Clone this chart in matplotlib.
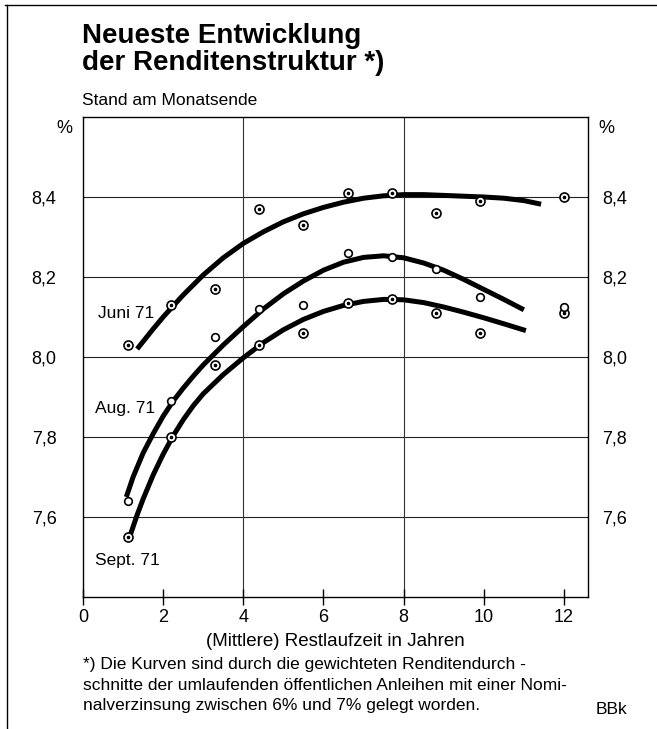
# plot.py
# Neueste Entwicklung der Renditenstruktur (BBk, 1971)

import matplotlib
matplotlib.use("Agg")
import matplotlib.pyplot as plt
import matplotlib.transforms as mtransforms

plt.rcParams["font.family"] = ["Liberation Sans", "DejaVu Sans"]

# observed yields (points), residual maturity in years
point_years = [1.12, 2.2, 3.3, 4.4, 5.5, 6.6, 7.7, 8.8, 9.9, 12.0]
juni_points = [8.03, 8.13, 8.17, 8.37, 8.33, 8.41, 8.41, 8.36, 8.39, 8.40]
aug_points = [7.64, 7.89, 8.05, 8.12, 8.13, 8.26, 8.25, 8.22, 8.15, 8.125]
sept_points = [7.55, 7.80, 7.98, 8.03, 8.06, 8.135, 8.145, 8.11, 8.06, 8.11]

# fitted curves
juni_curve_x = [1.35, 1.75, 2.0, 2.5, 3.0, 3.5, 4.0, 4.5, 5.0, 5.5, 6.0,
                6.5, 7.0, 7.5, 8.0, 8.5, 9.0, 9.5, 10.0, 10.5, 11.0, 11.43]
juni_curve_y = [8.02, 8.07, 8.10, 8.155, 8.205, 8.248, 8.284, 8.313, 8.338,
                8.358, 8.374, 8.387, 8.397, 8.403, 8.406, 8.406, 8.404,
                8.402, 8.40, 8.397, 8.391, 8.382]

aug_curve_x = [1.08, 1.25, 1.5, 1.75, 2.0, 2.25, 2.5, 2.75, 3.0, 3.5, 4.0,
               4.5, 5.0, 5.5, 6.0, 6.5, 7.0, 7.5, 8.0, 8.5, 9.0, 9.5, 10.0,
               10.5, 11.0]
aug_curve_y = [7.65, 7.70, 7.76, 7.808, 7.852, 7.89, 7.922, 7.952, 7.98,
               8.03, 8.076, 8.12, 8.158, 8.19, 8.217, 8.237, 8.249, 8.253,
               8.248, 8.235, 8.217, 8.194, 8.169, 8.144, 8.118]

sept_curve_x = [1.18, 1.35, 1.5, 1.75, 2.0, 2.25, 2.5, 2.75, 3.0, 3.5, 4.0,
                4.5, 5.0, 5.5, 6.0, 6.5, 7.0, 7.5, 8.0, 8.5, 9.0, 9.5, 10.0,
                10.5, 11.05]
sept_curve_y = [7.555, 7.605, 7.645, 7.705, 7.757, 7.803, 7.843, 7.878,
                7.908, 7.956, 7.998, 8.036, 8.068, 8.094, 8.114, 8.129,
                8.139, 8.144, 8.143, 8.136, 8.125, 8.112, 8.098, 8.083,
                8.066]

y_ticks = [7.6, 7.8, 8.0, 8.2, 8.4]
y_tick_labels = ["7,6", "7,8", "8,0", "8,2", "8,4"]
x_ticks = [0, 2, 4, 6, 8, 10, 12]

# figure, axes placed by pixel
W, H = 657, 729
fig = plt.figure(figsize=(W / 100, H / 100), dpi=100)
ax = fig.add_axes([83 / W, 1 - 597 / H, (588 - 83) / W, (597 - 117) / H])

ax.set_xlim(0, 12.6)
ax.set_ylim(7.4, 8.6)

# grid: all horizontal lines, vertical only at 4 and 8
for yv in y_ticks:
    ax.axhline(yv, color="#222222", linewidth=0.8, zorder=1)
for xv in [4, 8]:
    ax.axvline(xv, color="#333333", linewidth=0.8, zorder=1)

# fitted curves
for cx, cy in [(juni_curve_x, juni_curve_y),
               (aug_curve_x, aug_curve_y),
               (sept_curve_x, sept_curve_y)]:
    ax.plot(cx, cy, color="black", linewidth=3.6,
            solid_capstyle="butt", solid_joinstyle="round", zorder=3)

# observed points: circles with a dot (Aug plain circles)
for vals, dotted in [(juni_points, True), (sept_points, True),
                     (aug_points, False)]:
    ax.plot(point_years, vals, linestyle="none", marker="o",
            markersize=6.5 if dotted else 5.5, markerfacecolor="white",
            markeredgecolor="black", markeredgewidth=1.2, zorder=4)
    if dotted:
        ax.plot(point_years, vals, linestyle="none", marker="o",
                markersize=1.6, color="black", zorder=5)

# series labels
ax.text(0.37, 8.11, "Juni 71", fontsize=12.5, va="center", ha="left")
ax.text(0.3, 7.872, "Aug. 71", fontsize=12.5, va="center", ha="left")
ax.text(0.3, 7.492, "Sept. 71", fontsize=12.5, va="center", ha="left")

# axes styling
for s in ax.spines.values():
    s.set_linewidth(1.0)
    s.set_color("black")

ax.set_xticks(x_ticks)
ax.set_xticklabels([str(v) for v in x_ticks])
ax.tick_params(axis="x", direction="inout", length=11, width=1.0,
               labelsize=13, pad=3)
ax.set_yticks(y_ticks)
ax.set_yticklabels(y_tick_labels)
ax.tick_params(axis="y", length=0, labelsize=13, pad=19)

# right-hand labels
ax2 = ax.twinx()
ax2.set_ylim(ax.get_ylim())
ax2.set_yticks(y_ticks)
ax2.set_yticklabels(y_tick_labels)
ax2.tick_params(axis="y", length=0, labelsize=13, pad=10)
for s in ax2.spines.values():
    s.set_visible(False)

# percent signs above the tick labels
trans = mtransforms.blended_transform_factory(fig.transFigure, ax.transData)
fig.text(64 / W, 8.572, "%", transform=trans, fontsize=13,
         ha="center", va="center")
fig.text(606 / W, 8.572, "%", transform=trans, fontsize=13,
         ha="center", va="center")

ax.set_xlabel("(Mittlere) Restlaufzeit in Jahren", fontsize=13.5,
              labelpad=5)

# title and subtitle
fig.text(82 / W, 1 - 43 / H, "Neueste Entwicklung", fontsize=20,
         fontweight="bold", va="baseline", ha="left")
fig.text(82 / W, 1 - 70 / H, "der Renditenstruktur *)", fontsize=20,
         fontweight="bold", va="baseline", ha="left")
fig.text(82 / W, 1 - 105 / H, "Stand am Monatsende", fontsize=12.5,
         va="baseline", ha="left")

# footnote
foot = ["*) Die Kurven sind durch die gewichteten Renditendurch -",
        "schnitte der umlaufenden öffentlichen Anleihen mit einer Nomi-",
        "nalverzinsung zwischen 6% und 7% gelegt worden."]
for i, line in enumerate(foot):
    fig.text(83 / W, 1 - (669 + 20.5 * i) / H, line, fontsize=12.5,
             va="baseline", ha="left")
fig.text(596 / W, 1 - 714 / H, "BBk", fontsize=12.5, va="baseline",
         ha="left")

# frame lines at top and left edge
fig.add_artist(plt.Line2D([5 / W, 1], [1 - 5 / H, 1 - 5 / H],
                          transform=fig.transFigure, color="black",
                          linewidth=1.0))
fig.add_artist(plt.Line2D([7 / W, 7 / W], [0, 1 - 5 / H],
                          transform=fig.transFigure, color="black",
                          linewidth=1.0))

fig.savefig("out.png", dpi=100)
plt.close(fig)
